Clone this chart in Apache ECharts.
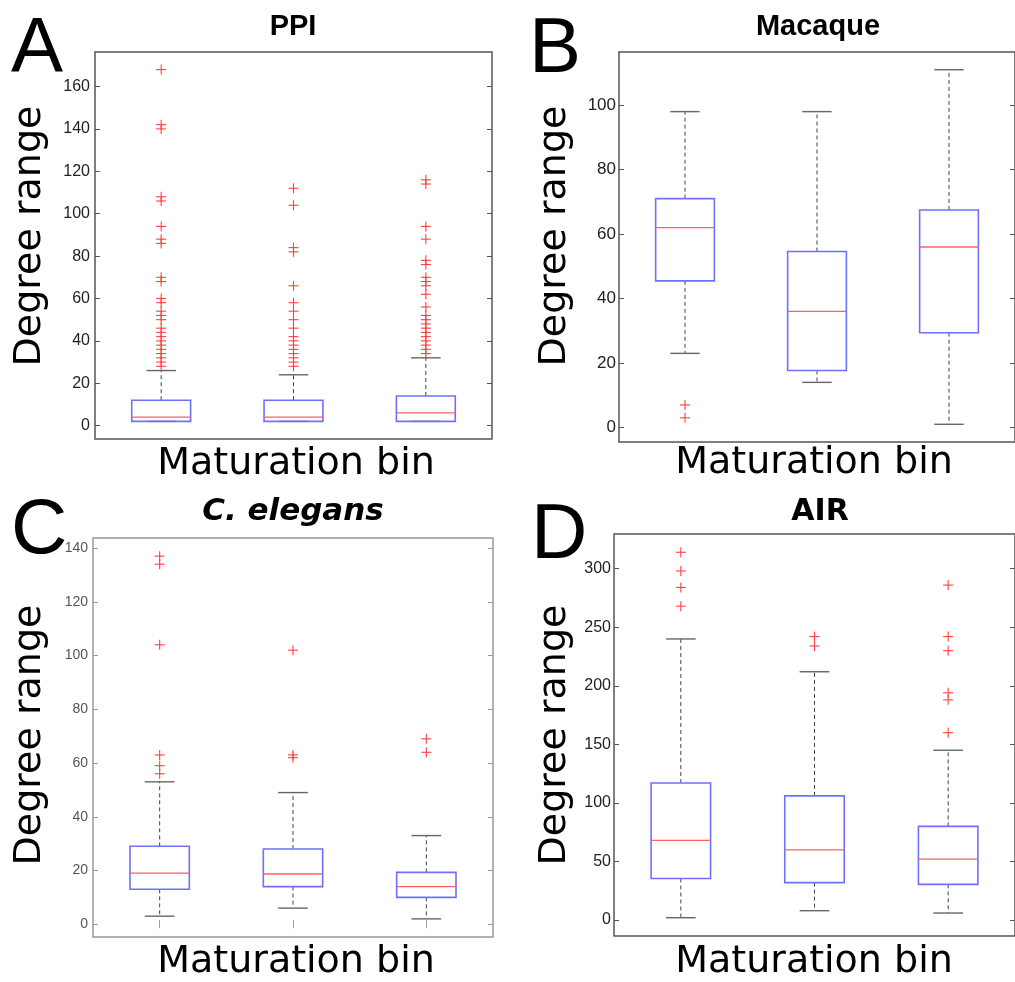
<!DOCTYPE html>
<html>
<head>
<meta charset="utf-8">
<script src="https://cdn.jsdelivr.net/npm/echarts@6/dist/echarts.min.js"></script>
<style>
html,body{margin:0;padding:0;background:#fff;}
#chart{width:1015px;height:982px;}
</style>
</head>
<body>
<div id="chart"></div>
<script>
// ---------- DATA ----------
const categories = ['1', '2', '3'];

// stats per bin: [lower whisker, Q1, median, Q3, upper whisker]
const ppiStats = [[2, 2, 4, 12, 26], [2, 2, 4, 12, 24], [2, 2, 6, 14, 32]];
const ppiOutliers = [
  [28, 30, 32, 34, 36, 38, 40, 42, 44, 46, 50, 52, 54, 58, 60, 68, 70, 86, 88, 94, 106, 108, 140, 142, 168],
  [28, 30, 32, 34, 36, 38, 40, 42, 46, 50, 54, 58, 66, 82, 84, 104, 112],
  [34, 36, 38, 40, 42, 44, 46, 48, 50, 52, 56, 62, 66, 68, 70, 76, 78, 88, 94, 114, 116]
];
const ppiTicks = [0, 20, 40, 60, 80, 100, 120, 140, 160];

const macaqueStats = [[23, 45.5, 62, 71, 98], [14, 17.7, 36, 54.6, 98], [1, 29.4, 56, 67.5, 111]];
const macaqueOutliers = [[7, 3], [], []];
const macaqueTicks = [0, 20, 40, 60, 80, 100];

const celegansStats = [[3, 13, 19, 29, 53], [6, 14, 18.7, 28, 49], [2, 10, 14, 19.3, 33]];
const celegansOutliers = [[137, 134, 104, 63, 59, 56], [102, 63, 62], [69, 64]];
const celegansTicks = [0, 20, 40, 60, 80, 100, 120, 140];

const airStats = [[2, 35.5, 68, 117, 240], [8, 32, 60, 106, 212], [6, 30.5, 52, 80, 145]];
const airOutliers = [[314, 298, 284, 268], [242, 234], [286, 242, 230, 194, 188, 160]];
const airTicks = [0, 50, 100, 150, 200, 250, 300];

const panelLetters = ['A', 'B', 'C', 'D'];
const panelTitles = ['PPI', 'Macaque', 'C. elegans', 'AIR'];
const xName = 'Maturation bin';
const yName = 'Degree range';

// ---------- CHART ----------
const panels = [
  {stats: ppiStats, out: ppiOutliers, ticks: ppiTicks,
   grid: {left: 95, top: 52, width: 397, height: 387},
   frame: '#555', labelFont: {fontFamily: 'Liberation Sans', fontSize: 16, color: '#222'}, labelMargin: 5, xTicks: false},
  {stats: macaqueStats, out: macaqueOutliers, ticks: macaqueTicks,
   grid: {left: 619, top: 52, width: 397, height: 390},
   frame: '#555', labelFont: {fontFamily: 'Liberation Sans', fontSize: 17, color: '#222'}, labelMargin: 3, xTicks: false},
  {stats: celegansStats, out: celegansOutliers, ticks: celegansTicks,
   grid: {left: 93, top: 538, width: 400, height: 399},
   frame: '#999', labelFont: {fontFamily: 'Liberation Sans', fontSize: 14, color: '#555'}, labelMargin: 5, xTicks: true},
  {stats: airStats, out: airOutliers, ticks: airTicks,
   grid: {left: 614, top: 534, width: 402, height: 402},
   frame: '#555', labelFont: {fontFamily: 'Liberation Sans Narrow, Liberation Sans', fontSize: 16, color: '#222'}, labelMargin: 3, xTicks: false}
];

const grids = [], xAxes = [], yAxes = [], series = [];

function renderBox(params, api) {
  const x = api.value(0);
  const lw = api.value(1), q1 = api.value(2), med = api.value(3), q3 = api.value(4), hw = api.value(5);
  const bw = api.size([1, 0])[0] * 0.445;
  const h = bw / 2, ch = bw / 4;
  const pLw = api.coord([x, lw]), pQ1 = api.coord([x, q1]), pMed = api.coord([x, med]);
  const pQ3 = api.coord([x, q3]), pHw = api.coord([x, hw]);
  const cx = pQ1[0];
  const dash = {stroke: '#444', lineWidth: 1, lineDash: [4, 3]};
  const cap = {stroke: '#666', lineWidth: 1.4};
  return {
    type: 'group',
    children: [
      {type: 'line', shape: {x1: cx, y1: pQ3[1], x2: cx, y2: pHw[1]}, style: dash},
      {type: 'line', shape: {x1: cx, y1: pQ1[1], x2: cx, y2: pLw[1]}, style: dash},
      {type: 'line', shape: {x1: cx - ch, y1: pHw[1], x2: cx + ch, y2: pHw[1]}, style: cap},
      {type: 'line', shape: {x1: cx - ch, y1: pLw[1], x2: cx + ch, y2: pLw[1]}, style: cap},
      {type: 'rect', shape: {x: cx - h, y: pQ3[1], width: bw, height: pQ1[1] - pQ3[1]},
       style: {fill: 'none', stroke: '#7070ff', lineWidth: 1.6}},
      {type: 'line', shape: {x1: cx - h, y1: pMed[1], x2: cx + h, y2: pMed[1]},
       style: {stroke: '#ff6060', lineWidth: 1.3}}
    ]
  };
}

function renderPlus(params, api) {
  const p = api.coord([api.value(0), api.value(1)]);
  const s = 5;
  const st = {stroke: '#ff4040', lineWidth: 1.1};
  return {
    type: 'group',
    children: [
      {type: 'line', shape: {x1: p[0] - s, y1: p[1], x2: p[0] + s, y2: p[1]}, style: st},
      {type: 'line', shape: {x1: p[0], y1: p[1] - s, x2: p[0], y2: p[1] + s}, style: st}
    ]
  };
}

panels.forEach((pn, i) => {
  const all = [];
  pn.stats.forEach(s => all.push(...s));
  pn.out.forEach(o => all.push(...o));
  const lo = Math.min(...all), hi = Math.max(...all);
  const pad = 0.05 * (hi - lo);
  const ymin = lo - pad, ymax = hi + pad;

  grids.push(Object.assign({show: true, borderColor: pn.frame, borderWidth: 1.5, backgroundColor: '#fff'}, pn.grid));

  const xTickCfg = {show: pn.xTicks, inside: true, length: 4, alignWithLabel: true, lineStyle: {color: pn.frame}};
  xAxes.push({type: 'category', gridIndex: i, data: categories, position: 'bottom',
    axisLine: {show: false}, axisTick: xTickCfg, axisLabel: {show: false}, splitLine: {show: false}});
  xAxes.push({type: 'category', gridIndex: i, data: categories, position: 'top',
    axisLine: {show: false}, axisTick: xTickCfg, axisLabel: {show: false}, splitLine: {show: false}});

  yAxes.push({type: 'value', gridIndex: i, min: ymin, max: ymax, position: 'left',
    axisLine: {show: false},
    axisTick: {show: true, inside: true, length: 5, customValues: pn.ticks, lineStyle: {color: pn.frame}},
    axisLabel: Object.assign({show: true, customValues: pn.ticks, margin: pn.labelMargin}, pn.labelFont),
    splitLine: {show: false}});
  yAxes.push({type: 'value', gridIndex: i, min: ymin, max: ymax, position: 'right',
    axisLine: {show: false},
    axisTick: {show: true, inside: true, length: 5, customValues: pn.ticks, lineStyle: {color: pn.frame}},
    axisLabel: {show: false}, splitLine: {show: false}});

  series.push({
    type: 'custom', xAxisIndex: 2 * i, yAxisIndex: 2 * i, renderItem: renderBox,
    data: pn.stats.map((s, k) => [k].concat(s)), silent: true, z: 2
  });
  const od = [];
  pn.out.forEach((arr, k) => arr.forEach(v => od.push([k, v])));
  series.push({
    type: 'custom', xAxisIndex: 2 * i, yAxisIndex: 2 * i, renderItem: renderPlus,
    data: od, silent: true, z: 3
  });
});

function txt(text, x, y, font, extra) {
  return {type: 'text', x: x, y: y, z: 10, silent: true,
    style: Object.assign({text: text, font: font, fill: '#000', textAlign: 'center', textVerticalAlign: 'middle'}, extra || {})};
}

const graphics = [
  txt(panelLetters[0], 11, 50, '78px "Liberation Sans"', {textAlign: 'left'}),
  txt(panelLetters[1], 529, 50, '78px "Liberation Sans"', {textAlign: 'left'}),
  txt(panelLetters[2], 11, 531, '78px "Liberation Sans"', {textAlign: 'left'}),
  txt(panelLetters[3], 531, 536, '78px "Liberation Sans"', {textAlign: 'left'}),
  txt(panelTitles[0], 293, 27, 'bold 29px "Liberation Sans"'),
  txt(panelTitles[1], 818, 27, 'bold 29px "Liberation Sans"'),
  txt(panelTitles[2], 293, 512, 'italic bold 31px "DejaVu Sans"'),
  txt(panelTitles[3], 820, 512, 'bold 30px "DejaVu Sans"'),
  txt(xName, 296, 464, '38px "DejaVu Sans"'),
  txt(xName, 814, 463, '38px "DejaVu Sans"'),
  txt(xName, 296, 962, '38px "DejaVu Sans"'),
  txt(xName, 814, 962, '38px "DejaVu Sans"')
];
[[30, 236], [555, 236], [30, 735], [555, 735]].forEach(p => {
  const g = txt(yName, p[0], p[1], '38px "DejaVu Sans"');
  g.rotation = Math.PI / 2;
  graphics.push(g);
});

const chart = echarts.init(document.getElementById('chart'), null, {renderer: 'canvas'});
chart.setOption({
  animation: false,
  backgroundColor: '#fff',
  grid: grids,
  xAxis: xAxes,
  yAxis: yAxes,
  series: series,
  graphic: graphics
});
</script>
</body>
</html>
